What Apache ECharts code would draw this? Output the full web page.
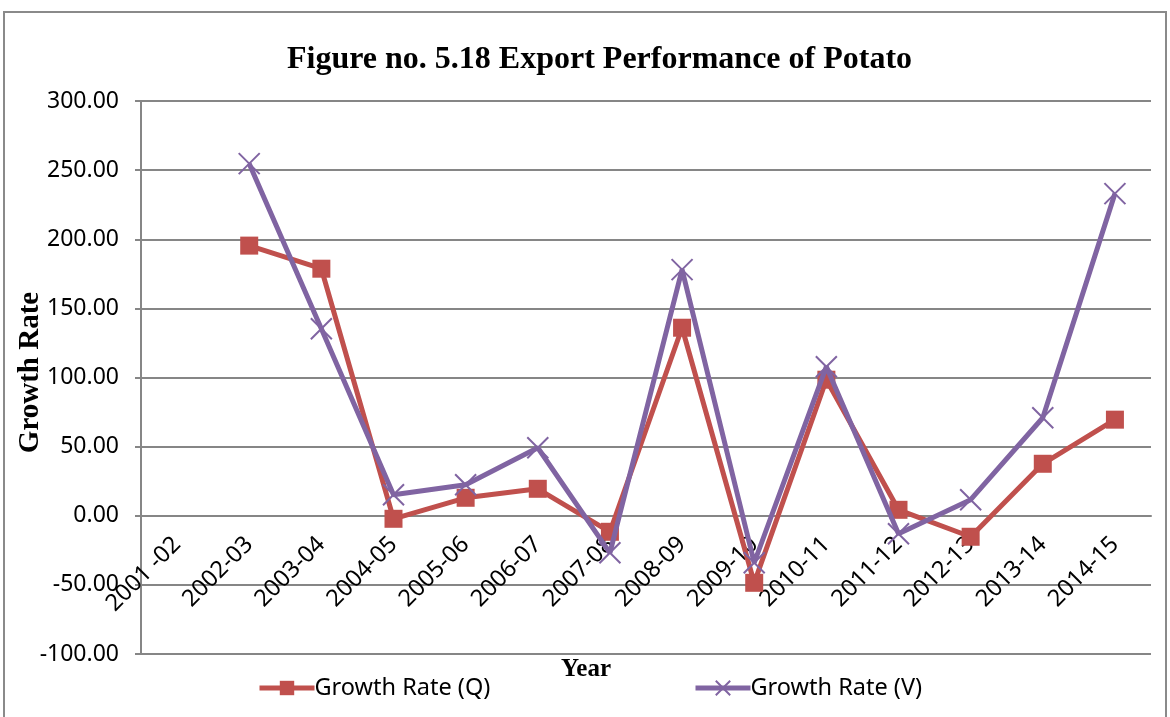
<!DOCTYPE html>
<html>
<head>
<meta charset="utf-8">
<script src="https://cdn.jsdelivr.net/npm/echarts@6/dist/echarts.min.js"></script>
<style>
html,body{margin:0;padding:0;background:#fff;}
#chart{width:1170px;height:717px;}
</style>
</head>
<body>
<div id="chart"></div>
<script>
const categories = ["2001 -02","2002-03","2003-04","2004-05","2005-06","2006-07","2007-08","2008-09","2009-10","2010-11","2011-12","2012-13","2013-14","2014-15"];
const growthQ = [null, 195.4, 178.7, -2.2, 13.0, 19.5, -11.6, 136.0, -48.5, 98.4, 4.3, -15.2, 37.6, 69.5];
const growthV = [null, 254.7, 135.3, 15.2, 22.4, 49.2, -26.8, 178.0, -34.0, 107.8, -13.0, 11.6, 70.9, 233.0];
const yTicks = {min: -100, max: 300, step: 50};

const red = '#C0504D';
const purple = '#8064A2';
const gridGray = '#868686';
const crossPath = 'path://M0,0L10,10M10,0L0,10';

const chart = echarts.init(document.getElementById('chart'));
const legendText = {fontFamily: 'Noto Sans', fontSize: 23.5, color: '#000', padding: [0,0,0,-5]};
chart.setOption({
  animation: false,
  backgroundColor: '#fff',
  graphic: [{
    type: 'rect',
    shape: {x: 4, y: 12, width: 1162, height: 720},
    style: {fill: 'none', stroke: '#8a8a8a', lineWidth: 2},
    silent: true
  }, {
    type: 'text',
    x: 586, y: 670,
    style: {text: 'Year', fontFamily: 'Liberation Serif', fontWeight: 'bold', fontSize: 25, fill: '#000', align: 'center', verticalAlign: 'middle'},
    silent: true
  }],
  title: {
    text: 'Figure no. 5.18 Export Performance of Potato',
    left: 282,
    top: 39,
    textStyle: {fontFamily: 'Liberation Serif', fontWeight: 'bold', fontSize: 32, color: '#000'}
  },
  grid: {left: 141, right: 19, top: 101, bottom: 63, containLabel: false, outerBoundsMode: 'none'},
  legend: [{
    bottom: 17, left: 257, padding: 0,
    itemWidth: 55, itemHeight: 18,
    lineStyle: {width: 5},
    textStyle: legendText,
    data: ['Growth Rate (Q)']
  }, {
    bottom: 17, left: 693, padding: 0,
    itemWidth: 55, itemHeight: 18,
    lineStyle: {width: 5},
    textStyle: legendText,
    data: ['Growth Rate (V)']
  }],
  xAxis: {
    type: 'category',
    data: categories,
    boundaryGap: true,
    position: 'bottom',
    axisLine: {show: true, onZero: true, lineStyle: {color: gridGray, width: 2}},
    axisTick: {show: false},
    axisLabel: {
      rotate: 45,
      interval: 0,
      margin: 25,
      fontFamily: 'Noto Sans',
      fontSize: 23.5,
      color: '#000'
    }
  },
  yAxis: {
    type: 'value',
    min: yTicks.min,
    max: yTicks.max,
    interval: yTicks.step,
    name: 'Growth Rate',
    nameLocation: 'middle',
    nameGap: 96,
    nameMoveOverlap: false,
    nameTextStyle: {fontFamily: 'Liberation Serif', fontWeight: 'bold', fontSize: 29, color: '#000', padding: [0,0,0,10]},
    axisLine: {show: true, lineStyle: {color: gridGray, width: 2}},
    axisTick: {show: true, length: 6, lineStyle: {color: gridGray, width: 2}},
    splitLine: {show: true, lineStyle: {color: gridGray, width: 2}},
    axisLabel: {
      margin: 22,
      fontFamily: 'Noto Sans',
      fontSize: 23,
      color: '#000',
      formatter: v => v.toFixed(2)
    }
  },
  series: [{
    name: 'Growth Rate (Q)',
    type: 'line',
    data: growthQ,
    symbol: 'rect',
    symbolSize: 18,
    lineStyle: {color: red, width: 5},
    itemStyle: {color: red},
    z: 2
  }, {
    name: 'Growth Rate (V)',
    type: 'line',
    data: growthV,
    symbol: crossPath,
    symbolSize: 21,
    lineStyle: {color: purple, width: 5},
    itemStyle: {color: purple, borderColor: purple, borderWidth: 2},
    z: 3
  }]
});
// Place the category axis on the zero line using the value axis' own scale
const zeroY = chart.convertToPixel({yAxisIndex: 0}, 0);
const bottomY = chart.convertToPixel({yAxisIndex: 0}, yTicks.min);
chart.setOption({xAxis: {offset: zeroY - bottomY}});
</script>
</body>
</html>
